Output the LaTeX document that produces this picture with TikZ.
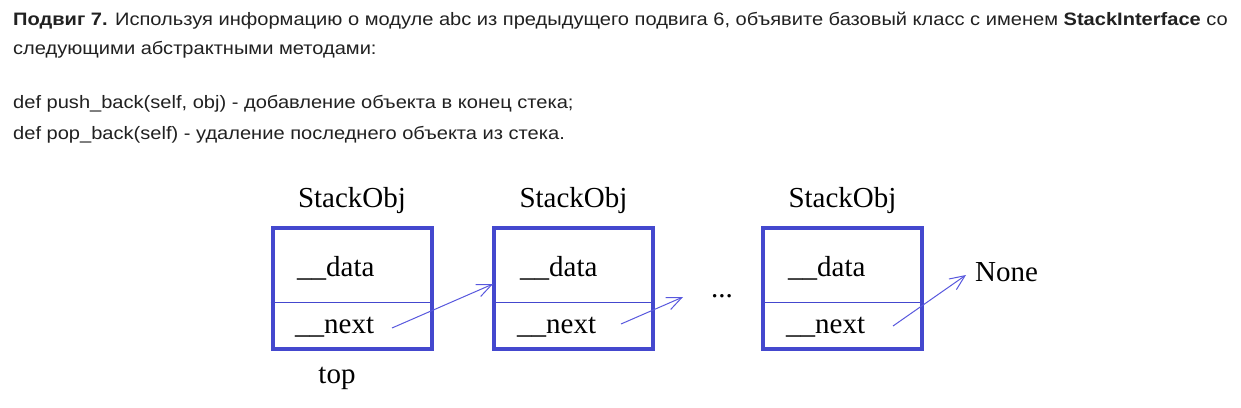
\documentclass[tikz,border=0pt]{standalone}
\usepackage{fontspec}
\setmainfont{Liberation Serif}
\newfontfamily\hdr[FakeStretch=1.115]{Liberation Sans}
\usetikzlibrary{arrows.meta}
\definecolor{boxblue}{RGB}{68,72,206}
\definecolor{arrblue}{RGB}{88,88,222}
\definecolor{txt}{RGB}{33,33,33}
\tikzset{
 objbox/.style={draw=boxblue, line width=4pt, minimum width=159pt, minimum height=121pt, inner sep=0pt},
 divline/.style={draw=boxblue, line width=1pt},
 lbl/.style={font=\fontsize{29}{30}\selectfont, inner sep=0pt, anchor=base},
 field/.style={lbl, anchor=base west},
 ptr/.style={draw=arrblue, line width=1pt, -{Straight Barb[length=15pt,width=13pt]}},
 hline/.style={font=\hdr\fontsize{18}{20}\selectfont, text=txt, inner sep=0pt, anchor=base west},
}
\begin{document}
\begin{tikzpicture}[x=1pt,y=-1pt]
\useasboundingbox[fill=white] (0,0) rectangle (1241,407);
% header text
\node[hline] (l1) at (13,25) {\textbf{Подвиг 7.} Используя информацию о модуле abc из предыдущего подвига 6, объявите базовый класс с именем \textbf{StackInterface} со};
\node[hline] (l2) at (13,54.5) {следующими абстрактными методами:};
\node[hline] (l3) at (13,108) {def push\_back(self, obj) - добавление объекта в конец стека;};
\node[hline] (l4) at (13,139) {def pop\_back(self) - удаление последнего объекта из стека.};
% boxes
\node[objbox] (b1) at (352,288.5) {};
\node[objbox] (b2) at (573.5,288.5) {};
\node[objbox] (b3) at (842.5,288.5) {};
\foreach \b in {b1,b2,b3}
  \draw[divline] ([yshift=-13.5pt]\b.west) -- ([yshift=-13.5pt]\b.east);
% titles
\node[lbl] (t1) at (352,207) {StackObj};
\node[lbl] (t2) at (573.5,207) {StackObj};
\node[lbl] (t3) at (842.5,207) {StackObj};
% fields
\node[field] (d1) at (297,276) {\_\_data};
\node[field] (n1) at (295,333) {\_\_next};
\node[field] (d2) at (520,276) {\_\_data};
\node[field] (n2) at (517,333) {\_\_next};
\node[field] (d3) at (788,276) {\_\_data};
\node[field] (n3) at (786,333) {\_\_next};
\node[lbl] (top) at (337,383) {top};
\node[lbl] (dots) at (722,297) {...};
\node[field] (none) at (975,281) {None};
% pointers
\coordinate (p1) at (392,328);
\coordinate (q1) at (493,284);
\coordinate (p2) at (621,324);
\coordinate (q2) at (683,297);
\coordinate (p3) at (893,326);
\coordinate (q3) at (966,275);
\draw[ptr] (p1) -- (q1);
\draw[ptr] (p2) -- (q2);
\draw[ptr] (p3) -- (q3);
\end{tikzpicture}
\end{document}
